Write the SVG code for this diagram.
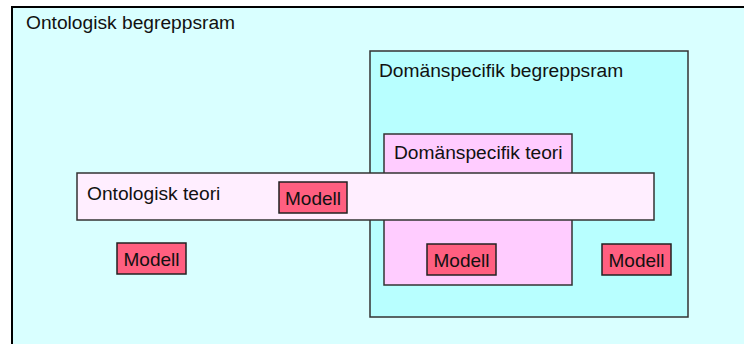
<svg xmlns="http://www.w3.org/2000/svg" width="744" height="344" viewBox="0 0 744 344">
  <style>
    text { font-family: "Liberation Sans", Arial, sans-serif; font-size: 19.2px; fill: #111; }
    .frame { stroke: #333; stroke-width: 1.5; }
    .model rect { fill: #ff5f80; stroke: #222; stroke-width: 1.5; }
    .model text { font-size: 19px; text-anchor: middle; }
  </style>
  <rect width="744" height="344" fill="#ffffff"/>

  <g id="ontologisk-begreppsram">
    <rect x="12" y="7" width="740" height="345" fill="#d9ffff" stroke="#000" stroke-width="2"/>
    <text x="26" y="29">Ontologisk begreppsram</text>
  </g>

  <g id="domanspecifik-begreppsram">
    <rect class="frame" x="370" y="51" width="318" height="266" fill="#b8ffff"/>
    <text x="379" y="77">Domänspecifik begreppsram</text>
  </g>

  <g id="domanspecifik-teori">
    <rect class="frame" x="384" y="134" width="188" height="151" fill="#ffccff"/>
    <text x="394" y="159">Domänspecifik teori</text>
  </g>

  <g id="ontologisk-teori">
    <rect class="frame" x="77" y="173" width="577" height="47" fill="#ffeeff"/>
    <text x="87" y="200">Ontologisk teori</text>
  </g>

  <g id="modell-1" class="model">
    <rect x="279" y="182" width="68" height="31"/>
    <text x="313" y="205">Modell</text>
  </g>
  <g id="modell-2" class="model">
    <rect x="117" y="243" width="69" height="31"/>
    <text x="151.5" y="266">Modell</text>
  </g>
  <g id="modell-3" class="model">
    <rect x="427" y="244" width="69" height="31"/>
    <text x="461.5" y="267">Modell</text>
  </g>
  <g id="modell-4" class="model">
    <rect x="602" y="244" width="69" height="31"/>
    <text x="636.5" y="267">Modell</text>
  </g>

  <g id="connectors"/>
</svg>
